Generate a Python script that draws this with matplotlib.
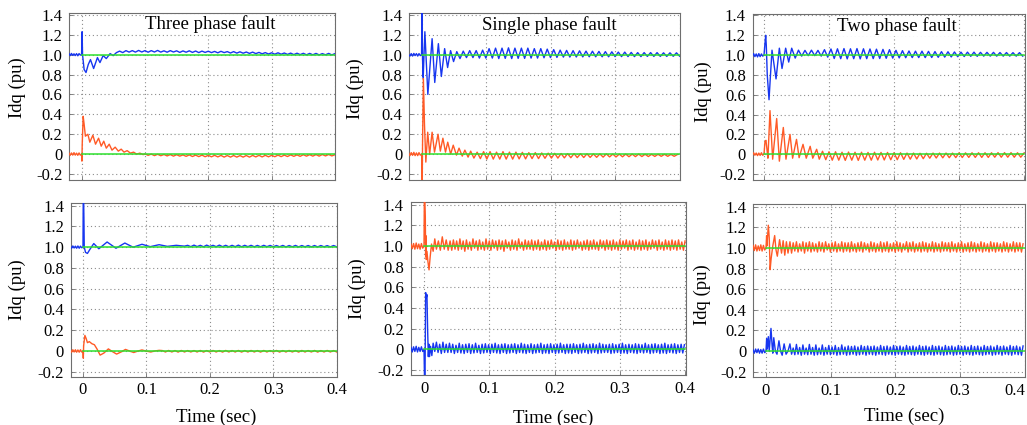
import numpy as np
import matplotlib
matplotlib.use("Agg")
import matplotlib.pyplot as plt

plt.rcParams['font.family'] = ['Liberation Serif', 'DejaVu Serif']

# ---------------- data ----------------
pre_t = [-0.02, -0.018, -0.016, -0.014, -0.012, -0.01, -0.008, -0.006, -0.004, -0.002]
ref_t = [0.0, 0.4]

# ---- Top-left: Three phase fault ----
tl_b_pre = [1.01, 0.99, 1.012, 0.992, 1.008, 0.99, 1.01, 0.988, 1.01, 0.995]
tl_b_tr_t = [0.0, 0.0008, 0.0015, 0.004, 0.007, 0.0105, 0.014, 0.019, 0.025, 0.029, 0.034, 0.039, 0.045, 0.05, 0.055]
tl_b_tr_v = [1.0, 1.23, 1.0, 0.85, 0.82, 0.9, 0.95, 0.86, 0.97, 0.92, 0.99, 0.96, 1.01, 0.99, 1.02]
tl_b_ss_t0, tl_b_ss_dt = 0.06, 0.005
tl_b_ss = [1.035, 1.02, 1.04, 1.025, 1.04, 1.025, 1.042, 1.026, 1.04, 1.024,
           1.04, 1.026, 1.042, 1.025, 1.038, 1.024, 1.04, 1.026, 1.038, 1.022,
           1.037, 1.024, 1.038, 1.022, 1.036, 1.02, 1.035, 1.022, 1.034, 1.02,
           1.032, 1.018, 1.033, 1.02, 1.03, 1.016, 1.03, 1.015, 1.028, 1.014,
           1.026, 1.012, 1.025, 1.01, 1.022, 1.008, 1.02, 1.006, 1.018, 1.004,
           1.018, 1.004, 1.016, 1.002, 1.015, 1.0, 1.014, 1.0, 1.013, 0.998,
           1.012, 0.998, 1.012, 0.997, 1.01, 0.998, 1.012, 0.997, 1.01]
tl_r_pre = [0.01, -0.012, 0.012, -0.01, 0.015, -0.01, 0.01, -0.012, 0.012, -0.01]
tl_r_tr_t = [0.0, 0.0005, 0.001, 0.0025, 0.004, 0.006, 0.0099, 0.013, 0.0178, 0.022, 0.0268, 0.031, 0.035,
             0.039, 0.0436, 0.048, 0.053, 0.058, 0.0625, 0.067, 0.072, 0.077, 0.082, 0.087, 0.092, 0.097]
tl_r_tr_v = [0.0, -0.07, 0.1, 0.38, 0.3, 0.18, 0.2, 0.12, 0.19, 0.1, 0.16, 0.08, 0.13,
             0.06, 0.1, 0.04, 0.07, 0.03, 0.05, 0.02, 0.035, 0.01, 0.02, 0.0, 0.01, -0.005]
tl_r_ss_t0, tl_r_ss_dt = 0.1, 0.005
tl_r_ss = [0.002, -0.012, 0.0, -0.015, -0.002, -0.016, -0.004, -0.018, -0.005, -0.02,
           -0.006, -0.02, -0.008, -0.022, -0.008, -0.024, -0.01, -0.025, -0.01, -0.026,
           -0.012, -0.027, -0.012, -0.028, -0.013, -0.03, -0.014, -0.03, -0.014, -0.03,
           -0.015, -0.03, -0.014, -0.03, -0.013, -0.028, -0.012, -0.028, -0.012, -0.027,
           -0.012, -0.026, -0.01, -0.025, -0.01, -0.024, -0.008, -0.022, -0.008, -0.022,
           -0.006, -0.02, -0.006, -0.02, -0.005, -0.02, -0.004, -0.018, -0.004, -0.018,
           -0.006]

# ---- Top-middle: Single phase fault ----
tm_b_pre = [1.0, 0.985, 1.01, 0.985, 1.012, 0.99, 1.01, 0.985, 1.01, 0.99]
tm_b_tr_t = [0.0, 0.0005, 0.0015, 0.0025, 0.0051, 0.0097, 0.0163, 0.0204, 0.026, 0.0306, 0.0357, 0.0403, 0.0449, 0.0495]
tm_b_tr_v = [1.0, 1.45, 0.95, 0.77, 1.23, 0.6, 1.16, 0.72, 1.11, 0.78, 1.06, 0.87, 1.04, 0.93]
tm_b_ss_t0, tm_b_ss_dt = 0.0545, 0.005
tm_b_ss = [1.03, 0.96, 1.035, 0.97, 1.04, 0.97, 1.04, 0.965, 1.045, 0.965,
           1.06, 0.965, 1.065, 0.96, 1.065, 0.962, 1.068, 0.96, 1.065, 0.962,
           1.065, 0.962, 1.065, 0.965, 1.06, 0.965, 1.06, 0.968, 1.055, 0.97,
           1.05, 0.972, 1.045, 0.975, 1.042, 0.975, 1.04, 0.976, 1.038, 0.977,
           1.035, 0.978, 1.034, 0.978, 1.032, 0.978, 1.03, 0.978, 1.028, 0.98,
           1.025, 0.98, 1.025, 0.98, 1.022, 0.98, 1.02, 0.98, 1.02, 0.982,
           1.02, 0.982, 1.02, 0.982, 1.018, 0.982, 1.018, 0.983, 1.018, 0.984]
tm_r_pre = [0.012, -0.015, 0.015, -0.012, 0.018, -0.015, 0.012, -0.015, 0.015, -0.01]
tm_r_tr_t = [0.0, 0.0005, 0.001, 0.0015, 0.0028, 0.0045, 0.0066, 0.0095, 0.0125, 0.0163, 0.02, 0.0255, 0.029,
             0.033, 0.037, 0.0405, 0.045, 0.049, 0.054, 0.058, 0.063, 0.067, 0.072, 0.076, 0.081]
tm_r_tr_v = [0.0, -0.08, -0.3, 0.1, 0.76, 0.3, -0.08, 0.22, 0.0, 0.22, 0.02, 0.2, 0.03,
             0.16, 0.02, 0.12, 0.0, 0.09, -0.01, 0.06, -0.02, 0.04, -0.03, 0.03, -0.04]
tm_r_ss_t0, tm_r_ss_dt = 0.086, 0.005
tm_r_ss = [0.02, -0.045, 0.025, -0.05, 0.025, -0.05, 0.02, -0.05, 0.025, -0.05,
           0.02, -0.05, 0.02, -0.048, 0.018, -0.048, 0.015, -0.045, 0.015, -0.045,
           0.012, -0.042, 0.01, -0.04, 0.008, -0.04, 0.006, -0.038, 0.005, -0.036,
           0.005, -0.035, 0.004, -0.034, 0.003, -0.033, 0.002, -0.032, 0.002, -0.03,
           0.002, -0.028, 0.0, -0.028, 0.0, -0.027, 0.0, -0.026, 0.0, -0.025,
           0.0, -0.024, -0.002, -0.024, -0.002, -0.023, -0.002, -0.022, -0.002, -0.022,
           -0.003, -0.022, -0.004]

# ---- Top-right: Two phase fault ----
tr_b_pre = [1.01, 0.985, 1.015, 0.985, 1.012, 0.982, 1.015, 0.985, 1.012, 0.99]
tr_b_tr_t = [0.0, 0.0015, 0.0026, 0.0035, 0.005, 0.0077, 0.0095, 0.0123, 0.0185, 0.0236, 0.0277, 0.0333, 0.038, 0.0426, 0.048]
tr_b_tr_v = [1.0, 1.12, 1.2, 1.1, 0.8, 0.55, 0.75, 1.05, 0.76, 1.07, 0.865, 1.07, 0.93, 1.07, 0.97]
tr_b_ss_t0, tr_b_ss_dt = 0.053, 0.005
tr_b_ss = [1.05, 0.99, 1.048, 0.995, 1.05, 0.995, 1.048, 0.99, 1.055, 0.98,
           1.062, 0.966, 1.064, 0.964, 1.066, 0.962, 1.064, 0.964, 1.066, 0.962,
           1.064, 0.964, 1.062, 0.965, 1.06, 0.966, 1.058, 0.968, 1.055, 0.97,
           1.048, 0.972, 1.045, 0.974, 1.042, 0.975, 1.04, 0.975, 1.04, 0.975,
           1.038, 0.976, 1.036, 0.978, 1.035, 0.98, 1.034, 0.982, 1.032, 0.984,
           1.03, 0.986, 1.03, 0.988, 1.03, 0.988, 1.028, 0.99, 1.028, 0.99,
           1.028, 0.99, 1.026, 0.99, 1.026, 0.99, 1.025, 0.99, 1.025, 0.99]
tr_r_pre = [0.012, -0.012, 0.015, -0.01, 0.012, -0.014, 0.012, -0.012, 0.015, -0.01]
tr_r_tr_t = [0.0, 0.0015, 0.003, 0.0045, 0.006, 0.0092, 0.0133, 0.0195, 0.0236, 0.0297, 0.0338,
             0.04, 0.044, 0.05, 0.054, 0.06, 0.065, 0.071, 0.075, 0.081, 0.085]
tr_r_tr_v = [0.0, 0.13, 0.14, 0.05, -0.04, 0.44, -0.05, 0.36, -0.07, 0.27, -0.05,
             0.2, -0.04, 0.15, -0.035, 0.1, -0.04, 0.08, -0.04, 0.05, -0.05]
tr_r_ss_t0, tr_r_ss_dt = 0.09, 0.005
tr_r_ss = [0.03, -0.055, 0.025, -0.06, 0.025, -0.06, 0.02, -0.062, 0.022, -0.06,
           0.02, -0.062, 0.02, -0.06, 0.018, -0.06, 0.02, -0.058, 0.018, -0.058,
           0.018, -0.056, 0.015, -0.055, 0.015, -0.052, 0.012, -0.05, 0.012, -0.048,
           0.01, -0.045, 0.01, -0.04, 0.012, -0.038, 0.012, -0.036, 0.012, -0.035,
           0.012, -0.034, 0.014, -0.033, 0.014, -0.032, 0.015, -0.032, 0.015, -0.032,
           0.015, -0.032, 0.015, -0.03, 0.016, -0.03, 0.016, -0.03, 0.016, -0.03,
           0.015, -0.03, 0.012]

# ---- Bottom-left: Three phase fault ----
bl_b_pre = [1.01, 0.99, 1.012, 0.992, 1.01, 0.99, 1.012, 0.99, 1.01, 0.995]
bl_b_tr_t = [0.0, 0.0004, 0.001, 0.0015, 0.002, 0.004, 0.007, 0.011, 0.017, 0.025, 0.038, 0.052,
             0.066, 0.079, 0.093, 0.106, 0.12, 0.133, 0.147, 0.16]
bl_b_tr_v = [1.0, 1.48, 1.48, 1.26, 1.0, 0.95, 0.94, 0.98, 1.035, 0.985, 1.05, 0.99,
             1.04, 1.0, 1.028, 1.005, 1.024, 1.008, 1.018, 1.01]
bl_b_ss_t0, bl_b_ss_dt = 0.165, 0.005
bl_b_ss = [1.018, 1.005, 1.02, 1.006, 1.018, 1.004, 1.02, 1.006, 1.018, 1.005,
           1.02, 1.005, 1.018, 1.004, 1.018, 1.005, 1.02, 1.004, 1.018, 1.005,
           1.018, 1.004, 1.017, 1.004, 1.018, 1.005, 1.017, 1.004, 1.016, 1.004,
           1.017, 1.003, 1.016, 1.004, 1.017, 1.003, 1.016, 1.004, 1.016, 1.003,
           1.016, 1.003, 1.016, 1.004, 1.015, 1.003, 1.016, 1.004]
bl_r_pre = [0.01, -0.012, 0.012, -0.01, 0.012, -0.012, 0.01, -0.012, 0.012, -0.01]
bl_r_tr_t = [0.0, 0.0005, 0.001, 0.003, 0.005, 0.007, 0.01, 0.014, 0.018, 0.022, 0.027, 0.033, 0.04,
             0.046, 0.053, 0.06, 0.067, 0.074, 0.08, 0.087, 0.093, 0.1, 0.107, 0.113, 0.12]
bl_r_tr_v = [0.0, -0.07, 0.05, 0.15, 0.12, 0.08, 0.09, 0.07, 0.06, 0.02, -0.04, -0.02, 0.02,
             -0.005, -0.03, -0.01, 0.015, -0.002, -0.015, 0.0, 0.01, -0.002, -0.01, 0.0, 0.006]
bl_r_ss_t0, bl_r_ss_dt = 0.125, 0.005
bl_r_ss = [0.004, -0.01, 0.005, -0.01, 0.004, -0.011, 0.005, -0.01, 0.004, -0.01,
           0.004, -0.01, 0.005, -0.011, 0.004, -0.01, 0.005, -0.01, 0.004, -0.011,
           0.005, -0.01, 0.004, -0.01, 0.005, -0.011, 0.004, -0.01, 0.005, -0.01,
           0.004, -0.011, 0.005, -0.01, 0.004, -0.01, 0.005, -0.011, 0.004, -0.01,
           0.005, -0.01, 0.004, -0.011, 0.005, -0.01, 0.004, -0.01, 0.005, -0.011,
           0.004, -0.01, 0.005, -0.01, 0.004, -0.01]

# ---- Bottom-middle: Single phase fault ----
bm_r_pre = [1.02, 0.975, 1.025, 0.97, 1.03, 0.975, 1.02, 0.97, 1.025, 0.98]
bm_r_tr_t = [0.0, 0.0005, 0.0012, 0.002, 0.0025, 0.003, 0.0035, 0.0045, 0.006, 0.0077, 0.0095,
             0.0115, 0.014, 0.0165, 0.019, 0.022, 0.025, 0.028, 0.031, 0.034, 0.037, 0.04]
bm_r_tr_v = [1.0, 1.48, 1.48, 1.28, 0.9, 1.1, 0.87, 0.95, 0.85, 0.77, 0.9,
             1.02, 0.95, 1.07, 0.97, 1.05, 0.96, 1.09, 0.97, 1.06, 0.96, 1.05]
bm_r_ss_t0, bm_r_ss_dt = 0.0425, 0.0025
bm_r_ss = [0.96, 1.06, 0.97, 1.05, 0.96, 1.07, 0.97, 1.05, 0.95, 1.06, 0.97, 1.04,
           0.96, 1.07, 0.98, 1.05, 0.96, 1.06, 0.97, 1.04, 0.96, 1.07, 0.97, 1.05,
           0.96, 1.06, 0.98, 1.05, 0.96, 1.06, 0.97, 1.05, 0.95, 1.06, 0.98, 1.04,
           0.96, 1.06, 0.97, 1.05, 0.96, 1.07, 0.98, 1.04, 0.96, 1.06, 0.97, 1.05,
           0.97, 1.06, 0.96, 1.05, 0.97, 1.06, 0.96, 1.04, 0.97, 1.06, 0.96, 1.05,
           0.97, 1.06, 0.98, 1.04, 0.96, 1.06, 0.97, 1.05, 0.96, 1.06, 0.97, 1.04,
           0.97, 1.06, 0.96, 1.05, 0.97, 1.06, 0.98, 1.04, 0.96, 1.05, 0.97, 1.06,
           0.96, 1.05, 0.97, 1.06, 0.97, 1.04, 0.96, 1.06, 0.98, 1.05, 0.96, 1.06,
           0.97, 1.05, 0.96, 1.06, 0.97, 1.04, 0.96, 1.06, 0.97, 1.05, 0.98, 1.06,
           0.96, 1.05, 0.97, 1.06, 0.96, 1.04, 0.97, 1.06, 0.96, 1.05, 0.97, 1.06,
           0.96, 1.04, 0.97, 1.06, 0.98, 1.05, 0.96, 1.06, 0.97, 1.04, 0.96, 1.06,
           0.97, 1.05, 0.96, 1.06, 0.97, 1.05, 0.96, 1.06, 0.97, 1.04, 0.96, 1.05]
bm_b_pre = [0.02, -0.025, 0.025, -0.02, 0.03, -0.025, 0.02, -0.02, 0.025, -0.02]
bm_b_tr_t = [0.0, 0.0003, 0.0008, 0.0015, 0.002, 0.0025, 0.0035, 0.0045, 0.0055, 0.0066, 0.0075, 0.0085,
             0.01, 0.012, 0.014, 0.0165, 0.019, 0.0215, 0.024, 0.0265, 0.029, 0.0315, 0.034, 0.0365, 0.039]
bm_b_tr_v = [0.0, -0.1, -0.3, -0.3, 0.2, 0.55, 0.5, 0.53, 0.2, -0.07, 0.05, -0.07,
             0.03, -0.06, 0.06, -0.02, 0.07, -0.03, 0.05, -0.04, 0.07, -0.03, 0.05, -0.03, 0.06]
bm_b_ss_t0, bm_b_ss_dt = 0.0415, 0.0025
bm_b_ss = [-0.03, 0.05, -0.04, 0.04, -0.03, 0.06, -0.035, 0.045, -0.04, 0.05, -0.03, 0.055,
           -0.04, 0.045, -0.035, 0.06, -0.03, 0.04, -0.04, 0.05, -0.035, 0.055, -0.03, 0.045,
           -0.04, 0.05, -0.03, 0.06, -0.035, 0.045, -0.04, 0.05, -0.03, 0.055, -0.04, 0.045,
           -0.035, 0.05, -0.03, 0.055, -0.04, 0.045, -0.03, 0.06, -0.035, 0.05, -0.04, 0.045,
           -0.03, 0.055, -0.04, 0.045, -0.035, 0.05, -0.03, 0.06, -0.04, 0.045, -0.035, 0.05,
           -0.04, 0.055, -0.03, 0.045, -0.04, 0.05, -0.035, 0.06, -0.03, 0.045, -0.04, 0.05,
           -0.035, 0.05, -0.04, 0.055, -0.03, 0.045, -0.04, 0.05, -0.035, 0.06, -0.03, 0.045,
           -0.04, 0.05, -0.035, 0.055, -0.03, 0.045, -0.04, 0.06, -0.035, 0.05, -0.03, 0.045,
           -0.03, 0.05, -0.04, 0.055, -0.035, 0.045, -0.03, 0.05, -0.04, 0.06, -0.035, 0.045,
           -0.04, 0.05, -0.03, 0.045, -0.035, 0.055, -0.04, 0.05, -0.03, 0.045, -0.035, 0.06,
           -0.03, 0.045, -0.04, 0.05, -0.035, 0.055, -0.03, 0.045, -0.04, 0.05, -0.035, 0.06,
           -0.04, 0.045, -0.03, 0.05, -0.035, 0.055, -0.04, 0.045, -0.03, 0.05, -0.035, 0.045]

# ---- Bottom-right: Two phase fault ----
br_r_pre = [1.025, 0.975, 1.03, 0.97, 1.02, 0.975, 1.03, 0.97, 1.025, 0.98]
br_r_tr_t = [0.0, 0.001, 0.0015, 0.0036, 0.005, 0.0064, 0.008, 0.0105, 0.0134, 0.0155, 0.0175,
             0.021, 0.024, 0.0265, 0.029, 0.0315, 0.034, 0.037]
br_r_tr_v = [1.0, 1.12, 1.02, 1.22, 1.1, 0.79, 0.9, 1.02, 1.12, 0.98, 0.92,
             1.08, 0.95, 1.07, 0.93, 1.06, 0.95, 1.06]
br_r_ss_t0, br_r_ss_dt = 0.0395, 0.0025
br_r_ss = [0.95, 1.05, 0.97, 1.06, 0.96, 1.04, 0.97, 1.06, 0.95, 1.05, 0.97, 1.06,
           0.96, 1.05, 0.97, 1.04, 0.96, 1.06, 0.97, 1.05, 0.96, 1.06, 0.98, 1.04,
           0.96, 1.05, 0.97, 1.06, 0.96, 1.04, 0.97, 1.06, 0.96, 1.05, 0.97, 1.05,
           0.96, 1.06, 0.97, 1.04, 0.96, 1.05, 0.97, 1.06, 0.96, 1.05, 0.98, 1.04,
           0.96, 1.06, 0.97, 1.05, 0.96, 1.04, 0.97, 1.06, 0.96, 1.05, 0.97, 1.06,
           0.96, 1.04, 0.97, 1.05, 0.96, 1.06, 0.97, 1.05, 0.96, 1.04, 0.98, 1.06,
           0.96, 1.05, 0.97, 1.06, 0.96, 1.04, 0.97, 1.05, 0.96, 1.06, 0.97, 1.05,
           0.96, 1.04, 0.97, 1.06, 0.96, 1.05, 0.97, 1.04, 0.96, 1.06, 0.97, 1.05,
           0.97, 1.05, 0.96, 1.06, 0.97, 1.04, 0.96, 1.05, 0.97, 1.06, 0.96, 1.04,
           0.97, 1.05, 0.96, 1.06, 0.97, 1.05, 0.96, 1.04, 0.97, 1.06, 0.96, 1.05,
           0.97, 1.04, 0.96, 1.06, 0.97, 1.05, 0.96, 1.05, 0.97, 1.04, 0.96, 1.06,
           0.97, 1.05, 0.96, 1.04, 0.97, 1.06, 0.96, 1.05, 0.97, 1.05, 0.96, 1.04]
br_b_pre = [0.015, -0.02, 0.02, -0.015, 0.02, -0.02, 0.015, -0.02, 0.02, -0.015]
br_b_tr_t = [0.0, 0.001, 0.002, 0.0036, 0.005, 0.0077, 0.0095, 0.0105, 0.012, 0.0145, 0.017, 0.02,
             0.0225, 0.025, 0.028, 0.031, 0.034, 0.037]
br_b_tr_v = [0.0, 0.12, 0.02, 0.14, 0.0, 0.22, 0.05, -0.02, 0.13, 0.0, -0.03, 0.1,
             0.0, -0.04, 0.07, -0.03, 0.0, 0.07]
br_b_ss_t0, br_b_ss_dt = 0.0395, 0.0025
br_b_ss = [-0.03, 0.03, -0.035, 0.065, -0.03, 0.035, -0.04, 0.06, -0.03, 0.03, -0.035, 0.065,
           -0.03, 0.035, -0.04, 0.06, -0.035, 0.03, -0.03, 0.06, -0.04, 0.035, -0.03, 0.055,
           -0.035, 0.04, -0.03, 0.055, -0.04, 0.035, -0.035, 0.06, -0.03, 0.04, -0.04, 0.05,
           -0.035, 0.045, -0.03, 0.05, -0.04, 0.04, -0.035, 0.055, -0.03, 0.045, -0.04, 0.05,
           -0.03, 0.045, -0.035, 0.05, -0.04, 0.04, -0.03, 0.055, -0.035, 0.045, -0.04, 0.05,
           -0.03, 0.04, -0.035, 0.055, -0.04, 0.045, -0.03, 0.05, -0.035, 0.04, -0.04, 0.055,
           -0.03, 0.045, -0.035, 0.05, -0.04, 0.04, -0.03, 0.055, -0.035, 0.045, -0.04, 0.05,
           -0.03, 0.04, -0.035, 0.055, -0.04, 0.045, -0.03, 0.05, -0.035, 0.04, -0.04, 0.055,
           -0.035, 0.045, -0.03, 0.05, -0.04, 0.04, -0.035, 0.055, -0.03, 0.045, -0.04, 0.05,
           -0.03, 0.04, -0.035, 0.055, -0.04, 0.045, -0.03, 0.05, -0.035, 0.04, -0.04, 0.055,
           -0.035, 0.045, -0.03, 0.05, -0.04, 0.04, -0.035, 0.055, -0.03, 0.045, -0.04, 0.05,
           -0.03, 0.04, -0.035, 0.055, -0.04, 0.045, -0.03, 0.05, -0.035, 0.04, -0.04, 0.05]

titles = ["Three phase fault", "Single phase fault", "Two phase fault"]
ytick_vals = [-0.2, 0, 0.2, 0.4, 0.6, 0.8, 1.0, 1.2, 1.4]
ytick_labels = ["-0.2", "0", "0.2", "0.4", "0.6", "0.8", "1.0", "1.2", "1.4"]
xtick_vals = [0, 0.1, 0.2, 0.3, 0.4]
xtick_labels = ["0", "0.1", "0.2", "0.3", "0.4"]

BLUE = '#1736f0'
RED = '#ff5a26'
GREEN = '#2ee02e'


def trace(pre, tr_t, tr_v, t0, dt, ss):
    t = np.concatenate([np.array(pre_t), np.array(tr_t), t0 + dt * np.arange(len(ss))])
    v = np.concatenate([np.array(pre), np.array(tr_v), np.array(ss)])
    return t, v


panels = [
    dict(box=(69.3, 335, 13.3, 180), xlim=(-0.0194, 0.396), ylim=(-0.26, 1.415),
         blue=trace(tl_b_pre, tl_b_tr_t, tl_b_tr_v, tl_b_ss_t0, tl_b_ss_dt, tl_b_ss),
         red=trace(tl_r_pre, tl_r_tr_t, tl_r_tr_v, tl_r_ss_t0, tl_r_ss_dt, tl_r_ss),
         refs=(1.0, 0.0), title=(titles[0], 210, 24.5), ylab=(17.5, 88), bottom=False),
    dict(box=(409.3, 680, 13.3, 180), xlim=(-0.019, 0.3956), ylim=(-0.26, 1.415),
         blue=trace(tm_b_pre, tm_b_tr_t, tm_b_tr_v, tm_b_ss_t0, tm_b_ss_dt, tm_b_ss),
         red=trace(tm_r_pre, tm_r_tr_t, tm_r_tr_v, tm_r_ss_t0, tm_r_ss_dt, tm_r_ss),
         refs=(1.0, 0.0), title=(titles[1], 549, 25), ylab=(355, 89), bottom=False),
    dict(box=(752.7, 1025, 14, 180), xlim=(-0.0174, 0.4015), ylim=(-0.26, 1.415),
         blue=trace(tr_b_pre, tr_b_tr_t, tr_b_tr_v, tr_b_ss_t0, tr_b_ss_dt, tr_b_ss),
         red=trace(tr_r_pre, tr_r_tr_t, tr_r_tr_v, tr_r_ss_t0, tr_r_ss_dt, tr_r_ss),
         refs=(1.0, 0.0), title=(titles[2], 896.7, 26), ylab=(703, 91.5), bottom=False),
    dict(box=(71, 336.7, 203.3, 376.7), xlim=(-0.0189, 0.4), ylim=(-0.248, 1.423),
         blue=trace(bl_b_pre, bl_b_tr_t, bl_b_tr_v, bl_b_ss_t0, bl_b_ss_dt, bl_b_ss),
         red=trace(bl_r_pre, bl_r_tr_t, bl_r_tr_v, bl_r_ss_t0, bl_r_ss_dt, bl_r_ss),
         refs=(1.0, 0.0), title=None, ylab=(17.5, 290), xlab=(216, 417), bottom=True),
    dict(box=(410.7, 685.7, 201.7, 375), xlim=(-0.0204, 0.401), ylim=(-0.248, 1.43),
         blue=trace(bm_b_pre, bm_b_tr_t, bm_b_tr_v, bm_b_ss_t0, bm_b_ss_dt, bm_b_ss),
         red=trace(bm_r_pre, bm_r_tr_t, bm_r_tr_v, bm_r_ss_t0, bm_r_ss_dt, bm_r_ss),
         refs=(0.0, 1.0), title=None, ylab=(357, 289), xlab=(553, 418), bottom=True),
    dict(box=(753.3, 1025, 204, 377), xlim=(-0.0196, 0.4), ylim=(-0.251, 1.426),
         blue=trace(br_b_pre, br_b_tr_t, br_b_tr_v, br_b_ss_t0, br_b_ss_dt, br_b_ss),
         red=trace(br_r_pre, br_r_tr_t, br_r_tr_v, br_r_ss_t0, br_r_ss_dt, br_r_ss),
         refs=(0.0, 1.0), title=None, ylab=(702.5, 295), xlab=(904, 416), bottom=True,
         last_right=True),
]

W, H = 1027, 425
fig = plt.figure(figsize=(W / 100, H / 100), dpi=100)
SPINE = '#6e6e6e'

for p in panels:
    l, r, t, b = p['box']
    ax = fig.add_axes([l / W, 1 - b / H, (r - l) / W, (b - t) / H])
    ax.set_xlim(*p['xlim'])
    ax.set_ylim(*p['ylim'])
    bt, bv = p['blue']
    rt, rv = p['red']
    ax.plot(rt, rv, color=RED, lw=1.0, zorder=3)
    ax.plot(bt, bv, color=BLUE, lw=1.0, zorder=3)
    for ref in p['refs']:
        ax.plot(ref_t, [ref, ref], color=GREEN, lw=1.1, zorder=4)
    ax.set_yticks(ytick_vals)
    ax.set_yticklabels(ytick_labels)
    ax.set_xticks(xtick_vals)
    if p['bottom']:
        ax.set_xticklabels(xtick_labels)
    else:
        ax.set_xticklabels([])
    ax.tick_params(direction='in', length=3, width=0.6, color=SPINE, labelsize=12,
                   labelcolor='black')
    ax.tick_params(axis='y', pad=5)
    ax.tick_params(axis='x', pad=4)
    if p.get('last_right'):
        ax.get_xticklabels()[-1].set_horizontalalignment('right')
    ax.grid(True, linestyle=(0, (1, 2.5)), color='#8c8c8c', lw=0.8)
    ax.set_axisbelow(True)
    for s in ax.spines.values():
        s.set_color(SPINE)
        s.set_linewidth(0.8)
    if p['title']:
        txt, cx, cy = p['title']
        fig.text(cx / W, 1 - cy / H, txt, ha='center', va='center', fontsize=13.5,
                 bbox=dict(facecolor='white', edgecolor='none', pad=0.5), zorder=10)
    yx, yy = p['ylab']
    fig.text(yx / W, 1 - yy / H, "Idq (pu)", rotation=90, ha='center', va='center', fontsize=13.5)
    if p['bottom']:
        xx, xy = p['xlab']
        fig.text(xx / W, 1 - xy / H, "Time (sec)", ha='center', va='center', fontsize=13.5)

fig.savefig("out.png", dpi=100)
